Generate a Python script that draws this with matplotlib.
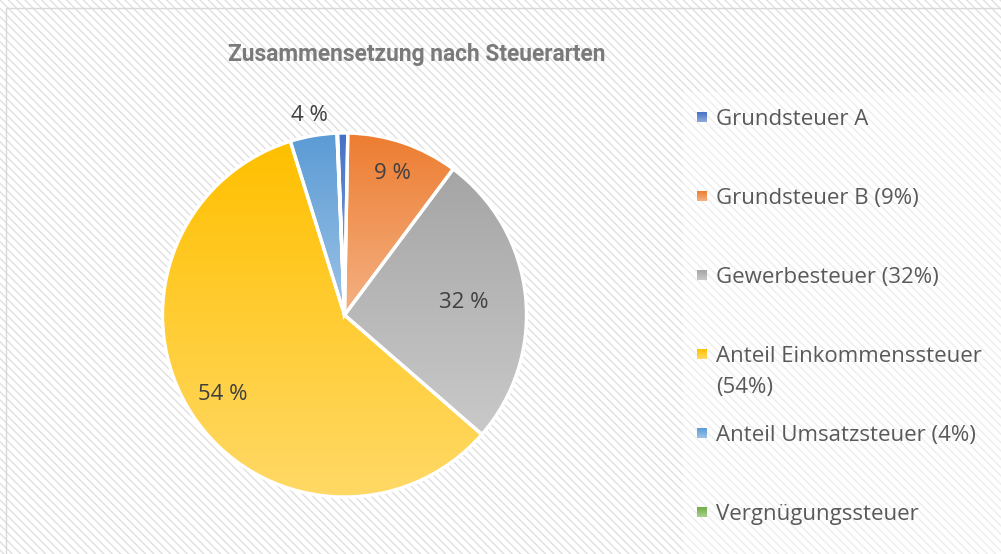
import numpy as np
import matplotlib
matplotlib.use("Agg")
import matplotlib.pyplot as plt
from matplotlib.colors import to_rgb
from matplotlib.patches import Rectangle

# values (angles of the slices)
categories = ["Grundsteuer A", "Grundsteuer B", "Gewerbesteuer",
              "Anteil Einkommenssteuer", "Anteil Umsatzsteuer", "Vergnügungssteuer"]
shares = [0.9, 9.9, 26.2, 58.8, 4.15, 0.05]
slice_labels = ["", "9 %", "32 %", "54 %", "4 %", ""]
legend_labels = ["Grundsteuer A", "Grundsteuer B (9%)", "Gewerbesteuer (32%)",
                 "Anteil Einkommenssteuer\n(54%)", "Anteil Umsatzsteuer (4%)",
                 "Vergnügungssteuer"]

top_colors = ["#4472C4", "#ED7D31", "#A5A5A5", "#FFC000", "#5B9BD5", "#70AD47"]
bottom_colors = ["#8FAADC", "#F4B183", "#C9C9C9", "#FFD966", "#9DC3E6", "#A9D18E"]
label_radius = [0, 0.82, 0.66, 0.80, 1.115, 0]

W, H = 1001, 554
plt.rcParams['font.family'] = ['Open Sans', 'DejaVu Sans']
plt.rcParams['hatch.linewidth'] = 1.0


def gradient(c_top, c_bot, n=64):
    t = np.linspace(0, 1, n)[:, None]
    a = np.array(to_rgb(c_top))
    b = np.array(to_rgb(c_bot))
    return (a * (1 - t) + b * t)[:, None, :].repeat(2, axis=1)


fig = plt.figure(figsize=(W / 100, H / 100), dpi=100)

# background layer in pixel coordinates
bg = fig.add_axes([0, 0, 1, 1])
bg.set_xlim(0, W)
bg.set_ylim(H, 0)
bg.axis('off')
bg.add_patch(Rectangle((0, 0), W, H, facecolor='white', edgecolor='#E0E0E0',
                       linewidth=0, hatch='\\\\\\\\', zorder=0))
bg.add_patch(Rectangle((683, 92), W - 683, H - 92, facecolor='white',
                       edgecolor='none', alpha=0.45, zorder=1))
bg.add_patch(Rectangle((6, 8), W, H, facecolor='none', edgecolor='#D9D9D9',
                       linewidth=1, zorder=2))

bg.text(417, 61, "Zusammensetzung nach Steuerarten", ha='center', va='baseline',
        fontsize=16.4, fontweight='bold', color='#7A7A7A', zorder=3,
        family=['Roboto', 'DejaVu Sans'])

# legend
for i, lab in enumerate(legend_labels):
    yc = 117 + i * 79
    bg.imshow(gradient(top_colors[i], bottom_colors[i]), extent=(697, 707, yc + 5, yc - 5),
              aspect='auto', interpolation='bilinear', zorder=3)
    for k, line in enumerate(lab.split("\n")):
        bg.text(716, yc + 8 + k * 31, line, ha='left', va='baseline',
                fontsize=16, color='#595959', zorder=3)
bg.set_xlim(0, W)
bg.set_ylim(H, 0)

# pie
ax = fig.add_axes([162.5 / W, (H - 497) / H, 364 / W, 364 / H])
wedges, _ = ax.pie(shares, startangle=92.2, counterclock=False, radius=1,
                   wedgeprops=dict(facecolor='none', edgecolor='white', linewidth=2.4))
for i, w in enumerate(wedges):
    w.set_zorder(3)
    ang = np.radians(np.linspace(w.theta1, w.theta2, 100))
    xs = np.concatenate([[0], np.cos(ang)])
    ys = np.concatenate([[0], np.sin(ang)])
    im = ax.imshow(gradient(top_colors[i], bottom_colors[i]),
                   extent=(xs.min(), xs.max(), ys.min(), ys.max()),
                   aspect='auto', interpolation='bilinear', zorder=2)
    im.set_clip_path(w)
    if slice_labels[i]:
        mid = np.radians((w.theta1 + w.theta2) / 2)
        r = label_radius[i]
        ax.text(r * np.cos(mid), r * np.sin(mid), slice_labels[i], ha='center',
                va='center', fontsize=16, color='#404040', zorder=4)
ax.set_xlim(-1, 1)
ax.set_ylim(-1, 1)
ax.set_aspect('equal')
ax.axis('off')

fig.savefig("out.png", dpi=100)
